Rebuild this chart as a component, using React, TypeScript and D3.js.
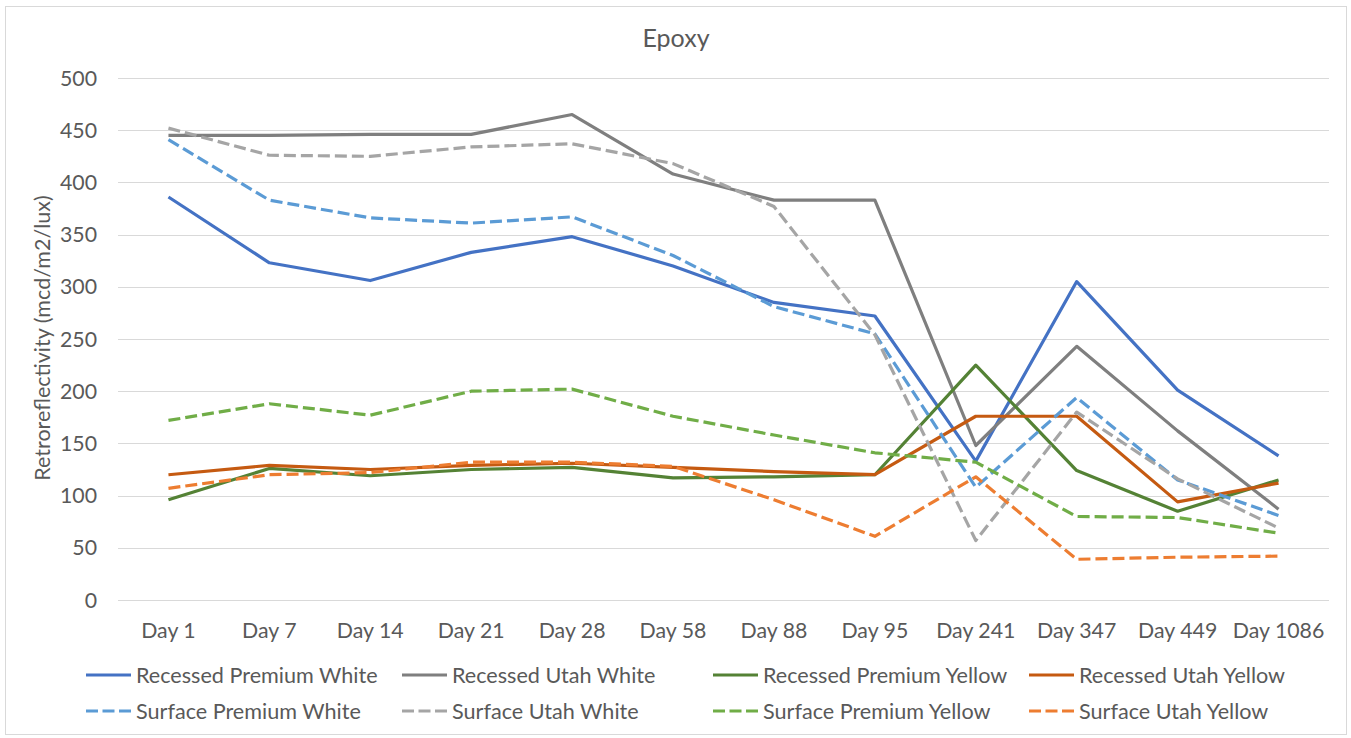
import React, { useEffect, useRef } from 'react';
import * as d3 from 'd3';

const days = ['Day 1', 'Day 7', 'Day 14', 'Day 21', 'Day 28', 'Day 58', 'Day 88', 'Day 95', 'Day 241', 'Day 347', 'Day 449', 'Day 1086'];
const yTicks = [0, 50, 100, 150, 200, 250, 300, 350, 400, 450, 500];

const recessedPremiumWhite = [386, 323, 306, 333, 348, 320, 285, 272, 133, 305, 201, 138];
const recessedUtahWhite = [445, 445, 446, 446, 465, 408, 383, 383, 148, 243, 162, 87];
const recessedPremiumYellow = [96, 126, 119, 125, 127, 117, 118, 120, 225, 124, 85, 115];
const recessedUtahYellow = [120, 129, 125, 129, 131, 127, 123, 120, 176, 176, 94, 112];
const surfacePremiumWhite = [441, 383, 366, 361, 367, 330, 281, 255, 108, 194, 115, 81];
const surfaceUtahWhite = [452, 426, 425, 434, 437, 418, 377, 254, 57, 180, 116, 69];
const surfacePremiumYellow = [172, 188, 177, 200, 202, 176, 158, 141, 132, 80, 79, 64];
const surfaceUtahYellow = [107, 120, 122, 132, 132, 128, 96, 61, 118, 39, 41, 42];

const seriesNames = [
  'Recessed Premium White', 'Recessed Utah White', 'Recessed Premium Yellow', 'Recessed Utah Yellow',
  'Surface Premium White', 'Surface Utah White', 'Surface Premium Yellow', 'Surface Utah Yellow',
];
const seriesValues = [
  recessedPremiumWhite, recessedUtahWhite, recessedPremiumYellow, recessedUtahYellow,
  surfacePremiumWhite, surfaceUtahWhite, surfacePremiumYellow, surfaceUtahYellow,
];
const seriesColors = ['#4472C4', '#7F7F7F', '#548235', '#C55A11', '#5B9BD5', '#A5A5A5', '#70AD47', '#ED7D31'];
const seriesDashed = [false, false, false, false, true, true, true, true];

export default function App() {
  const svgRef = useRef<SVGSVGElement>(null);

  useEffect(() => {
    if (!svgRef.current) return;
    const svg = d3.select(svgRef.current);
    svg.selectAll('*').remove();

    const font = 'Lato, Calibri, "Open Sans", sans-serif';
    const textColor = '#595959';
    const plot = { left: 118, right: 1329, top: 78, bottom: 600 };

    // chart frame
    svg.append('rect')
      .attr('x', 5.5).attr('y', 6.5)
      .attr('width', 1341).attr('height', 728)
      .attr('fill', '#fff')
      .attr('stroke', '#D9D9D9');

    const x = d3.scaleBand<string>()
      .domain(days)
      .range([plot.left, plot.right]);

    const y = d3.scaleLinear()
      .domain([0, 500])
      .range([plot.bottom, plot.top]);

    // gridlines
    svg.append('g')
      .selectAll('line')
      .data(yTicks)
      .enter().append('line')
      .attr('x1', plot.left).attr('x2', plot.right)
      .attr('y1', d => Math.round(y(d)) + 0.5)
      .attr('y2', d => Math.round(y(d)) + 0.5)
      .attr('stroke', '#D9D9D9')
      .attr('stroke-width', 1);

    // y tick labels
    svg.append('g')
      .selectAll('text')
      .data(yTicks)
      .enter().append('text')
      .attr('x', 97)
      .attr('y', d => y(d))
      .attr('dy', '0.36em')
      .attr('text-anchor', 'end')
      .attr('fill', textColor)
      .attr('font-family', font)
      .attr('font-size', '21.3px')
      .text(d => d);

    // x labels
    svg.append('g')
      .selectAll('text')
      .data(days)
      .enter().append('text')
      .attr('x', d => (x(d) as number) + x.bandwidth() / 2)
      .attr('y', 638)
      .attr('text-anchor', 'middle')
      .attr('fill', textColor)
      .attr('font-family', font)
      .attr('font-size', '21.3px')
      .text(d => d);

    // title
    svg.append('text')
      .attr('x', 676)
      .attr('y', 38)
      .attr('dy', '0.36em')
      .attr('text-anchor', 'middle')
      .attr('fill', textColor)
      .attr('font-family', font)
      .attr('font-size', '25px')
      .text('Epoxy');

    // y axis title
    svg.append('text')
      .attr('transform', 'translate(42,338) rotate(-90)')
      .attr('dy', '0.36em')
      .attr('text-anchor', 'middle')
      .attr('fill', textColor)
      .attr('font-family', font)
      .attr('font-size', '21.5px')
      .text('Retroreflectivity (mcd/m2/lux)');

    const line = d3.line<number>()
      .x((_, i) => (x(days[i]) as number) + x.bandwidth() / 2)
      .y(d => y(d));

    seriesValues.forEach((vals, i) => {
      svg.append('path')
        .datum(vals)
        .attr('fill', 'none')
        .attr('stroke', seriesColors[i])
        .attr('stroke-width', 3.2)
        .attr('stroke-linejoin', 'round')
        .attr('stroke-dasharray', seriesDashed[i] ? '12,5' : null)
        .attr('d', line);
    });

    // legend
    const legendCols = [86, 402, 713, 1029];
    const legendRows = [675, 711];
    seriesNames.forEach((name, k) => {
      const lx = legendCols[k % 4];
      const ly = legendRows[Math.floor(k / 4)];
      const g = svg.append('g');
      g.append('line')
        .attr('x1', lx).attr('x2', lx + 45)
        .attr('y1', ly).attr('y2', ly)
        .attr('stroke', seriesColors[k])
        .attr('stroke-width', 3.2)
        .attr('stroke-dasharray', seriesDashed[k] ? '12,4.5' : null);
      g.append('text')
        .attr('x', lx + 50)
        .attr('y', ly)
        .attr('dy', '0.36em')
        .attr('fill', textColor)
        .attr('font-family', font)
        .attr('font-size', '21.6px')
        .text(name);
    });
  }, []);

  return (
    <div style={{ position: 'absolute', left: 0, top: 0 }}>
      <svg ref={svgRef} width={1351} height={738} style={{ display: 'block' }} />
    </div>
  );
}
